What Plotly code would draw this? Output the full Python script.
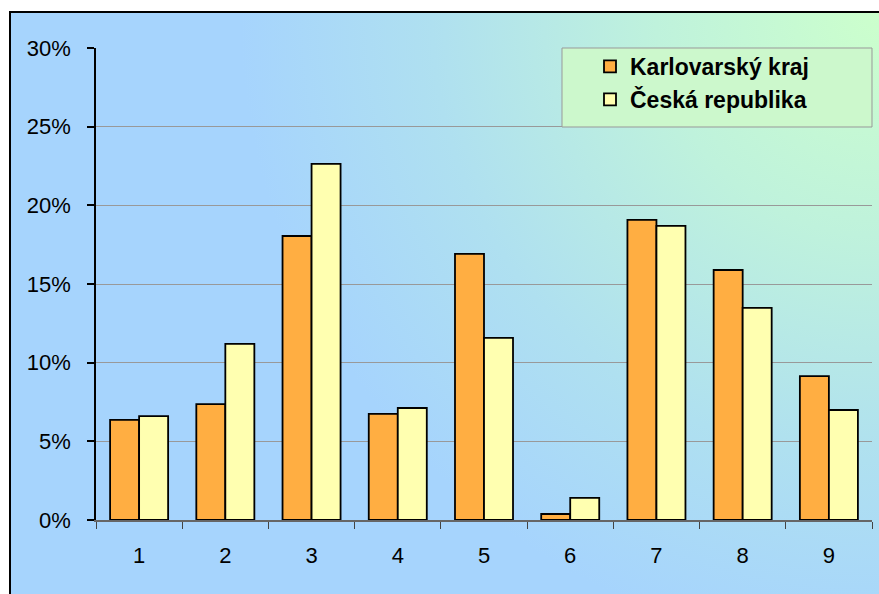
import base64
import plotly.graph_objects as go

categories = ["1", "2", "3", "4", "5", "6", "7", "8", "9"]
karlovarsky = [0.0636, 0.0737, 0.1805, 0.0674, 0.1691, 0.0038, 0.1907, 0.1589, 0.0915]
ceska = [0.0660, 0.1119, 0.2263, 0.0712, 0.1157, 0.0140, 0.1869, 0.1348, 0.0699]
series_names = ["Karlovarský kraj", "Česká republika"]
y_ticks = [0, 0.05, 0.10, 0.15, 0.20, 0.25, 0.30]

W, H = 879, 594
# target plot area in screen pixels: x 96..872, y 48..520
PX0, PX1, PY0, PY1 = 96, 872, 48, 520
L, R, T, B = PX0, W - PX1, PY0, H - PY1
pw, ph = PX1 - PX0, PY1 - PY0


def px(x):
    return (x - PX0) / pw


def py(y):
    return (PY1 - y) / ph


svg = (
    '<svg xmlns="http://www.w3.org/2000/svg" width="870" height="582" viewBox="0 0 870 582" preserveAspectRatio="none">'
    '<defs><radialGradient id="g" gradientUnits="userSpaceOnUse" cx="870" cy="0" r="640">'
    '<stop offset="0" stop-color="#ccffcc"/>'
    '<stop offset="0.35" stop-color="#bff2dc"/>'
    '<stop offset="0.7" stop-color="#afe0f0"/>'
    '<stop offset="1" stop-color="#a6d4fd"/>'
    '</radialGradient></defs>'
    '<rect width="870" height="582" fill="url(#g)"/></svg>'
)
src = "data:image/svg+xml;base64," + base64.b64encode(svg.encode()).decode()

fig = go.Figure()
fig.add_trace(go.Bar(x=categories, y=karlovarsky, name=series_names[0],
                     marker=dict(color="#ffae42", line=dict(color="black", width=1.8)),
                     legendgroup="a"))
fig.add_trace(go.Bar(x=categories, y=ceska, name=series_names[1],
                     marker=dict(color="#ffffb0", line=dict(color="black", width=1.8)),
                     legendgroup="b"))

fig.add_layout_image(dict(source=src, xref="paper", yref="paper",
                          x=px(10), y=py(12), sizex=(880 - 10) / pw, sizey=(594 - 12) / ph,
                          xanchor="left", yanchor="top", sizing="stretch", layer="below"))

# outer frame lines
fig.add_shape(type="line", xref="paper", yref="paper", x0=px(10), x1=px(10), y0=py(11), y1=py(600),
              line=dict(color="black", width=2))
fig.add_shape(type="line", xref="paper", yref="paper", x0=px(9), x1=px(885), y0=py(12), y1=py(12),
              line=dict(color="black", width=2))
# legend box
fig.add_shape(type="rect", xref="paper", yref="paper", x0=px(562), x1=px(872), y0=py(48), y1=py(127),
              line=dict(color="#999999", width=1), fillcolor="#ccf8cc", layer="above")

fig.update_layout(
    width=W, height=H,
    margin=dict(l=L, r=R, t=T, b=B),
    paper_bgcolor="white",
    plot_bgcolor="rgba(0,0,0,0)",
    barmode="group", bargap=0.327, bargroupgap=0,
    font=dict(family="Liberation Sans, Arial, sans-serif", color="black"),
    showlegend=True,
    legend=dict(x=px(590), y=py(45), xanchor="left", yanchor="top",
                bgcolor="rgba(0,0,0,0)", borderwidth=0,
                font=dict(size=23, family="Liberation Sans, Arial, sans-serif", color="black", weight="bold"),
                traceorder="normal", tracegroupgap=18),
    xaxis=dict(type="category", tickson="boundaries", ticks="outside", ticklen=7, tickwidth=1,
               tickcolor="#444444", showline=True, linecolor="#666666", linewidth=1.5,
               showgrid=False, tickfont=dict(size=22), ticklabelstandoff=15,
               range=[-0.5, 8.5]),
    yaxis=dict(range=[0, 0.30], tickvals=y_ticks, tickformat=".0%", ticks="outside", ticklen=7,
               tickwidth=1.5, tickcolor="black", showline=True, linecolor="black", linewidth=1.5,
               showgrid=True, gridcolor="#999999", gridwidth=1, zeroline=False,
               tickfont=dict(size=22), ticklabelstandoff=12),
)

fig.write_html("out.html", config={"displayModeBar": False},
               post_script="document.body.style.margin='0';document.body.style.overflow='hidden';")
